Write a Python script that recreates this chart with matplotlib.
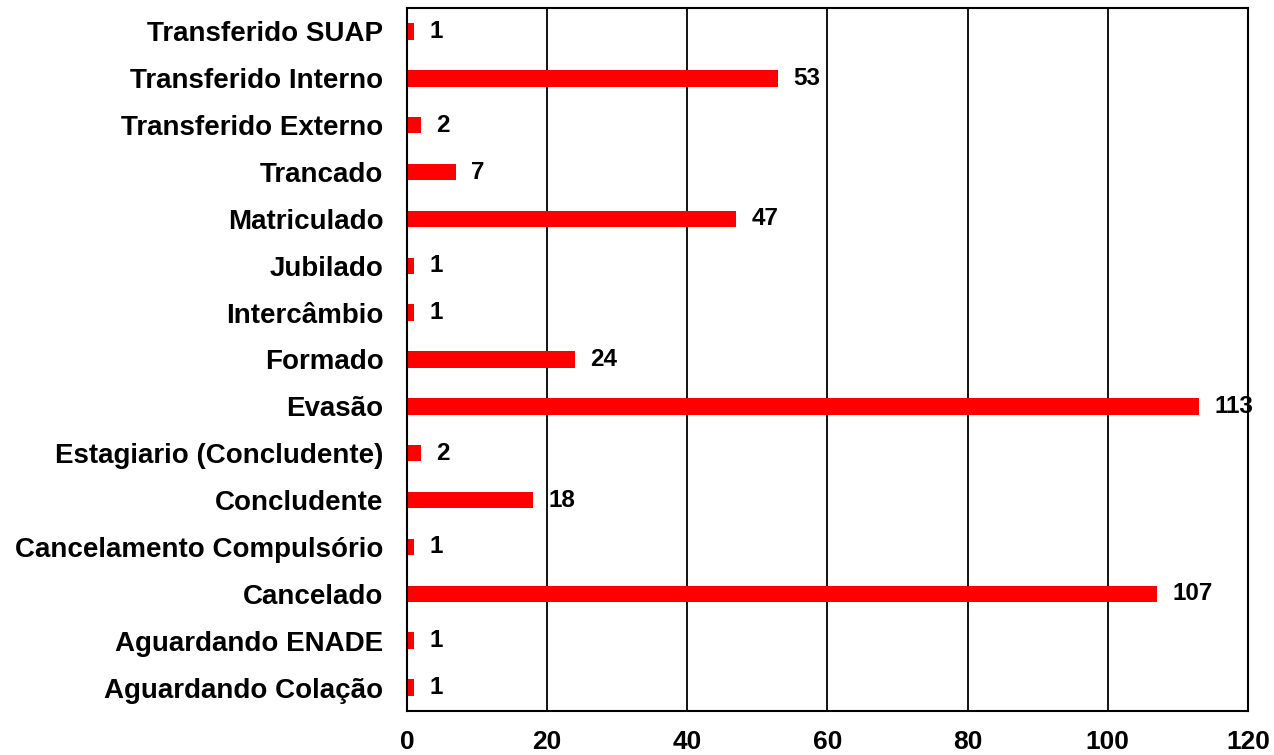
import matplotlib.pyplot as plt

categories = ["Aguardando Colação", "Aguardando ENADE", "Cancelado",
              "Cancelamento Compulsório", "Concludente", "Estagiario (Concludente)",
              "Evasão", "Formado", "Intercâmbio", "Jubilado", "Matriculado",
              "Trancado", "Transferido Externo", "Transferido Interno",
              "Transferido SUAP"]
values = [1, 1, 107, 1, 18, 2, 113, 24, 1, 1, 47, 7, 2, 53, 1]
x_ticks = [0, 20, 40, 60, 80, 100, 120]

plt.rcParams["font.family"] = ["Liberation Sans", "DejaVu Sans"]
plt.rcParams["font.weight"] = "bold"

fig = plt.figure(figsize=(12.74, 7.55), dpi=100)
ax = fig.add_axes([0.3195, 0.0583, 0.66, 0.9311])

ypos = range(len(categories))
ax.barh(ypos, values, height=0.35, color="#ff0000", zorder=3)
for y, v in zip(ypos, values):
    ax.annotate(str(v), (v, y), xytext=(11, 0), textcoords="offset points",
                va="center", ha="left", fontsize=17.5, fontweight="bold",
                zorder=2)

ax.set_xlim(0, 120)
ax.set_ylim(-0.5, len(categories) - 0.5)
ax.set_xticks(x_ticks)
ax.set_yticks(list(ypos))
ax.set_yticklabels(categories, fontsize=20, fontweight="bold")
ax.set_xticklabels([str(t) for t in x_ticks], fontsize=19, fontweight="bold")
ax.tick_params(axis="both", length=0)
ax.tick_params(axis="x", pad=14)
ax.tick_params(axis="y", pad=17)
ax.grid(axis="x", color="black", linewidth=1.3, zorder=0)
for s in ax.spines.values():
    s.set_linewidth(1.5)
    s.set_color("black")
    s.set_zorder(4)

fig.savefig("out.png", dpi=100)
